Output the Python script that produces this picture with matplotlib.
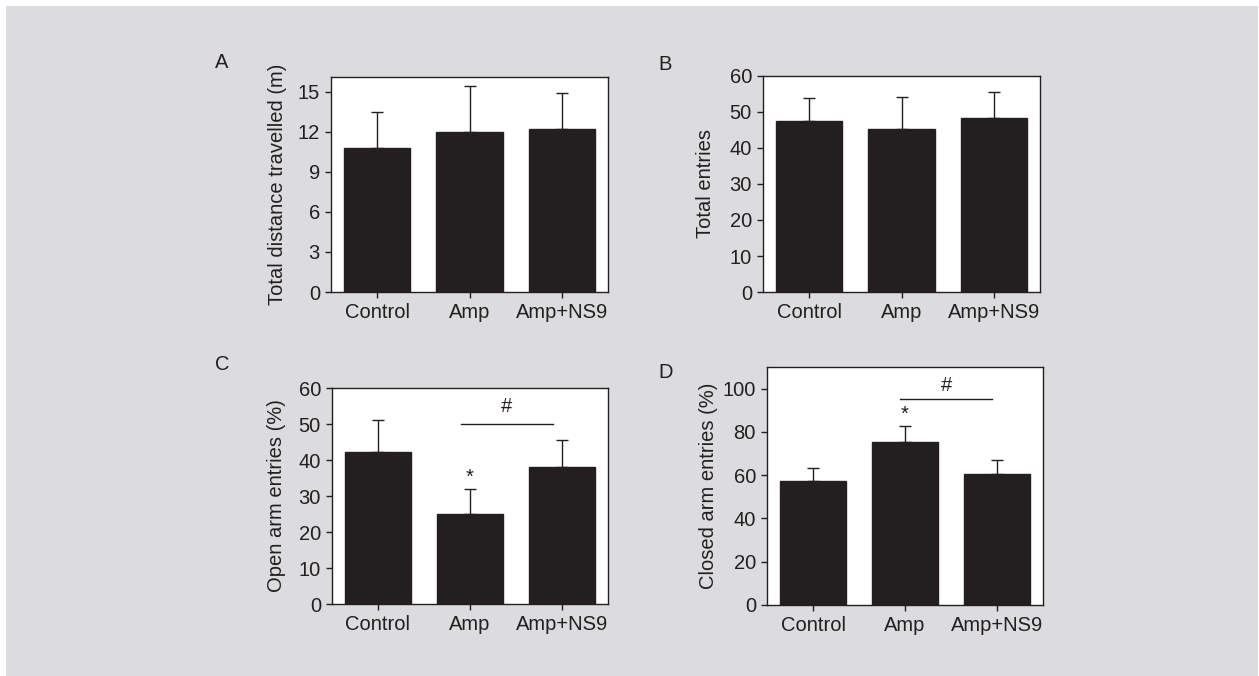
import matplotlib
matplotlib.use("Agg")
import matplotlib.pyplot as plt
from matplotlib.patches import Rectangle

# ── Data ─────────────────────────────────────────────────────────────
groups = ["Control", "Amp", "Amp+NS9"]

dist_mean = [10.8, 12.0, 12.2]
dist_err = [2.7, 3.45, 2.7]

entries_mean = [47.5, 45.3, 48.3]
entries_err = [6.4, 8.9, 7.3]

open_mean = [42.2, 25.0, 38.1]
open_err = [8.9, 6.9, 7.5]

closed_mean = [57.4, 75.5, 60.6]
closed_err = [6.0, 7.4, 6.5]

W, H = 1259, 676
BG = "#dcdcde"
INK = "#231f20"
FS = 14.5

plt.rcParams["font.family"] = ["Liberation Sans", "DejaVu Sans"]

fig = plt.figure(figsize=(W / 100, H / 100), dpi=100)
fig.patch.set_facecolor("white")
fig.add_artist(Rectangle((6 / W, 0), (W - 7) / W, (H - 6) / H,
                         transform=fig.transFigure, facecolor=BG,
                         edgecolor="none", zorder=-10))


def px_axes(left, top, right, bottom):
    return fig.add_axes([left / W, 1 - bottom / H, (right - left) / W, (bottom - top) / H])


def panel(ax, means, errs, ylim, ticks, ylabel, label_x):
    x = range(len(groups))
    ax.bar(x, means, width=0.72, color=INK, edgecolor=INK, zorder=2)
    ax.errorbar(x, means, yerr=[[0] * len(errs), errs], fmt="none",
                ecolor=INK, elinewidth=1.0, capsize=4, capthick=1.0, zorder=1)
    ax.set_xlim(-0.5, 2.5)
    ax.set_ylim(*ylim)
    ax.set_yticks(ticks)
    ax.set_xticks(list(x))
    ax.set_xticklabels(groups)
    ax.set_facecolor("white")
    for s in ax.spines.values():
        s.set_color(INK)
        s.set_linewidth(1.0)
    ax.tick_params(axis="both", labelsize=FS, length=4, width=1.0,
                   direction="out", colors=INK, pad=4)
    ax.set_ylabel(ylabel, fontsize=FS, color=INK)
    ax.yaxis.set_label_coords(label_x, 0.5)


axA = px_axes(331, 77, 608, 292)
panel(axA, dist_mean, dist_err, (0, 16.1), [0, 3, 6, 9, 12, 15],
      "Total distance travelled (m)", -0.16)

axB = px_axes(763, 76, 1040, 292)
panel(axB, entries_mean, entries_err, (0, 60), [0, 10, 20, 30, 40, 50, 60],
      "Total entries", -0.172)

axC = px_axes(332, 388, 608, 604)
panel(axC, open_mean, open_err, (0, 60), [0, 10, 20, 30, 40, 50, 60],
      "Open arm entries (%)", -0.165)
axC.plot([0.9, 1.9], [50, 50], color=INK, lw=1.0)
axC.text(1.4, 52.3, "#", ha="center", va="bottom", fontsize=FS, color=INK)
axC.text(1, open_mean[1] + open_err[1] + 0.6, "*", ha="center", va="bottom",
         fontsize=FS, color=INK)

axD = px_axes(767, 367, 1043, 605)
panel(axD, closed_mean, closed_err, (0, 110), [0, 20, 40, 60, 80, 100],
      "Closed arm entries (%)", -0.176)
axD.plot([0.95, 1.95], [95.4, 95.4], color=INK, lw=1.0)
axD.text(1.45, 97.2, "#", ha="center", va="bottom", fontsize=FS, color=INK)
axD.text(1, closed_mean[1] + closed_err[1] + 0.8, "*", ha="center", va="bottom",
         fontsize=FS, color=INK)

for lab, (lx, ly) in zip("ABCD", [(222, 63), (665, 65), (222, 365), (666, 373)]):
    fig.text(lx / W, 1 - ly / H, lab, ha="center", va="center", fontsize=FS,
             color=INK)

fig.savefig("out.png", dpi=100, facecolor=fig.get_facecolor())
